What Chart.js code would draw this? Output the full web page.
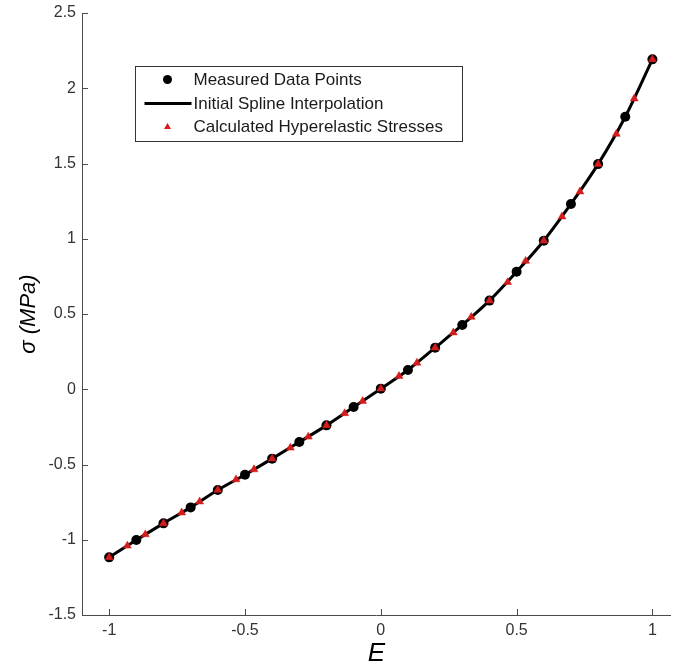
<!DOCTYPE html>
<html>
<head>
<meta charset="utf-8">
<script src="https://cdn.jsdelivr.net/npm/chart.js@4"></script>
<style>
  html, body { margin: 0; padding: 0; background: #fff; overflow: hidden; }
  #wrap { width: 676px; height: 669px; position: relative; }
</style>
</head>
<body>
<div id="wrap"><canvas id="myChart" width="676" height="669"></canvas></div>
<script>
// measured points (black dots), also used for the spline
const measuredE = [-1, -0.9, -0.8, -0.7, -0.6, -0.5, -0.4, -0.3, -0.2, -0.1, 0, 0.1, 0.2, 0.3, 0.4, 0.5, 0.6, 0.7, 0.8, 0.9, 1];
const measuredS = [-1.117, -1.002, -0.891, -0.785, -0.669, -0.568, -0.461, -0.351, -0.240, -0.118, 0.004, 0.128, 0.276, 0.427, 0.589, 0.781, 0.987, 1.231, 1.496, 1.811, 2.192];

// calculated hyperelastic stresses (red triangles)
const calcE = [-1, -0.933, -0.867, -0.8, -0.733, -0.667, -0.6, -0.533, -0.467, -0.4, -0.333, -0.267, -0.2, -0.133, -0.067, 0,
  0.067, 0.133, 0.2, 0.267, 0.333, 0.4, 0.467, 0.533, 0.6, 0.667, 0.733, 0.8, 0.867, 0.933, 1];
const calcS = [-1.117, -1.04, -0.965, -0.891, -0.82, -0.747, -0.669, -0.60, -0.533, -0.461, -0.389, -0.316, -0.240, -0.160, -0.079, 0.004,
  0.087, 0.175, 0.276, 0.376, 0.480, 0.589, 0.711, 0.852, 0.987, 1.147, 1.313, 1.496, 1.696, 1.931, 2.192];

const xTicks = [-1, -0.5, 0, 0.5, 1];
const yTicks = [-1.5, -1, -0.5, 0, 0.5, 1, 1.5, 2, 2.5];

const legendLabels = ["Measured Data Points", "Initial Spline Interpolation", "Calculated Hyperelastic Stresses"];

const RED = "#d41c1c";
const AXIS = "#4a4a4a";
const FONT = "'Liberation Sans', Arial, sans-serif";

function pts(xs, ys) {
  return xs.map((x, i) => ({ x: x, y: ys[i] }));
}

// inward tick marks like matlab
const inTicks = {
  id: "inTicks",
  afterDraw(chart) {
    const ctx = chart.ctx;
    const a = chart.chartArea;
    const xs = chart.scales.x, ys = chart.scales.y;
    ctx.save();
    ctx.strokeStyle = AXIS;
    ctx.lineWidth = 1;
    ctx.beginPath();
    xs.ticks.forEach(t => {
      const px = Math.round(xs.getPixelForValue(t.value)) + 0.5;
      ctx.moveTo(px, a.bottom);
      ctx.lineTo(px, a.bottom - 6);
    });
    ys.ticks.forEach(t => {
      const py = Math.round(ys.getPixelForValue(t.value)) + 0.5;
      ctx.moveTo(a.left, py);
      ctx.lineTo(a.left + 6, py);
    });
    ctx.stroke();
    ctx.restore();
  }
};

// boxed legend inside the axes
const boxLegend = {
  id: "boxLegend",
  afterDraw(chart) {
    const ctx = chart.ctx;
    const a = chart.chartArea;
    const bx = a.left + 53.5, by = a.top + 53.5, bw = 327, bh = 75;
    ctx.save();
    ctx.fillStyle = "#fff";
    ctx.fillRect(bx, by, bw, bh);
    ctx.strokeStyle = "#333";
    ctx.lineWidth = 1;
    ctx.strokeRect(bx, by, bw, bh);

    const sx = bx + 32, tx = bx + 58;
    const rows = [by + 13, by + 37, by + 60];
    // dot
    ctx.fillStyle = "#000";
    ctx.beginPath();
    ctx.arc(sx, rows[0], 4.5, 0, Math.PI * 2);
    ctx.fill();
    // line
    ctx.strokeStyle = "#000";
    ctx.lineWidth = 3;
    ctx.beginPath();
    ctx.moveTo(bx + 9, rows[1]);
    ctx.lineTo(bx + 56, rows[1]);
    ctx.stroke();
    // triangle
    ctx.fillStyle = RED;
    ctx.beginPath();
    ctx.moveTo(sx, rows[2] - 3.5);
    ctx.lineTo(sx + 3.5, rows[2] + 2.5);
    ctx.lineTo(sx - 3.5, rows[2] + 2.5);
    ctx.closePath();
    ctx.fill();

    ctx.fillStyle = "#1a1a1a";
    ctx.font = "17px " + FONT;
    ctx.textBaseline = "middle";
    legendLabels.forEach((lab, i) => ctx.fillText(lab, tx, rows[i] + 1));
    ctx.restore();
  }
};

new Chart("myChart", {
  type: "scatter",
  data: {
    datasets: [{
      label: legendLabels[0],
      data: pts(measuredE, measuredS),
      showLine: false,
      pointStyle: "circle",
      pointRadius: 5,
      backgroundColor: "#000",
      borderColor: "#000",
      pointBorderWidth: 0,
      order: 1
    },
    {
      label: legendLabels[1],
      data: pts(measuredE, measuredS),
      showLine: true,
      cubicInterpolationMode: "monotone",
      borderColor: "#000",
      borderWidth: 3,
      pointRadius: 0,
      fill: false,
      order: 2
    },
    {
      label: legendLabels[2],
      data: pts(calcE, calcS),
      showLine: false,
      pointStyle: "triangle",
      pointRadius: 4.6,
      backgroundColor: RED,
      borderColor: RED,
      pointBorderWidth: 0.5,
      order: 0
    }]
  },
  plugins: [inTicks, boxLegend],
  options: {
    responsive: false,
    animation: false,
    events: [],
    layout: { padding: { top: 13, right: 0, left: 0, bottom: 0 } },
    plugins: {
      legend: { display: false },
      tooltip: { enabled: false }
    },
    scales: {
      x: {
        type: "linear",
        min: -1.1,
        max: 1.068,
        afterBuildTicks: s => { s.ticks = xTicks.map(v => ({ value: v })); },
        afterFit: s => { s.height = 54; s.paddingLeft = 0; s.paddingRight = 0; },
        grid: { drawOnChartArea: false, drawTicks: false },
        border: { color: AXIS, width: 1 },
        ticks: { color: "#333", padding: 6, callback: v => String(v), font: { family: FONT, size: 16 } },
        title: { display: true, text: "E", color: "#000", padding: { top: 0, bottom: 0 },
          font: { family: FONT, size: 26, style: "italic" } }
      },
      y: {
        type: "linear",
        min: -1.5,
        max: 2.5,
        afterBuildTicks: s => { s.ticks = yTicks.map(v => ({ value: v })); },
        afterFit: s => { s.width = 82; s.paddingTop = 0; s.paddingBottom = 0; },
        grid: { drawOnChartArea: false, drawTicks: false },
        border: { color: AXIS, width: 1 },
        ticks: { color: "#333", padding: 6, callback: v => String(v), font: { family: FONT, size: 16 } },
        title: { display: true, text: "σ (MPa)", color: "#000", padding: { top: 16, bottom: 0 },
          font: { family: FONT, size: 22, style: "italic" } }
      }
    }
  }
});
</script>
</body>
</html>
